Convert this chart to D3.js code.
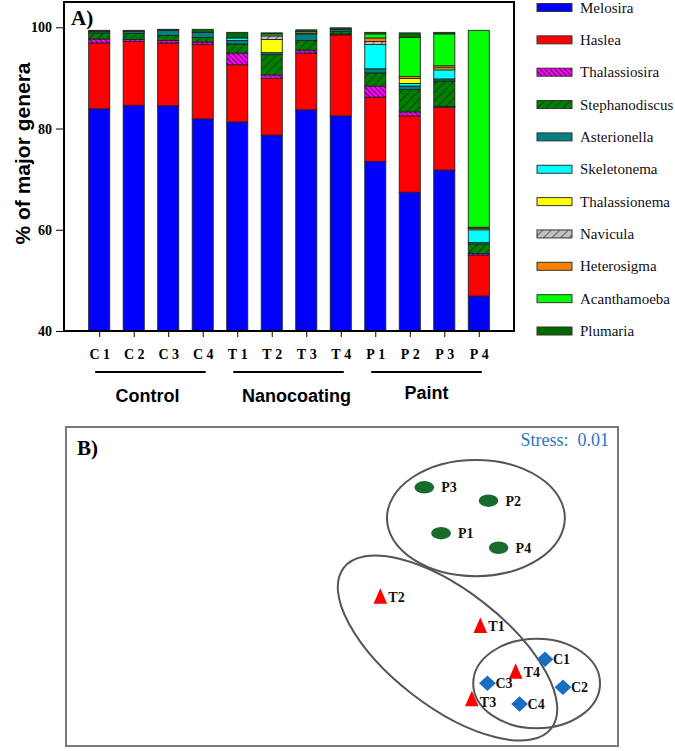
<!DOCTYPE html>
<html><head><meta charset="utf-8">
<script src="https://cdn.jsdelivr.net/npm/d3@7"></script>
<style>
html,body{margin:0;padding:0;background:#fff;}
svg{display:block;}
</style></head>
<body>
<svg id="chart" width="675" height="751"></svg>
<script>
// ---------- Panel A data ----------
const samples = ["C 1","C 2","C 3","C 4","T 1","T 2","T 3","T 4","P 1","P 2","P 3","P 4"];
const genera = ["Melosira","Haslea","Thalassiosira","Stephanodiscus","Asterionella","Skeletonema","Thalassionema","Navicula","Heterosigma","Acanthamoeba","Plumaria"];
const melosira       = [83.9, 84.6, 84.5, 81.9, 81.3, 78.7, 83.7, 82.5, 73.5, 67.4, 71.8, 46.9];
const haslea         = [13.0, 12.6, 12.4, 14.7, 11.3, 11.2, 11.2, 16.0, 12.7, 15.1, 12.4, 8.1];
const thalassiosira  = [0.8, 0.4, 0.5, 0.5, 2.3, 0.7, 0.6, 0.2, 2.2, 0.8, 0.2, 0.3];
const stephanodiscus = [1.2, 1.2, 1.0, 0.9, 1.8, 4.0, 1.9, 0.5, 2.6, 4.4, 5.0, 1.9];
const asterionella   = [0.3, 0.4, 1.0, 1.0, 0.7, 0.4, 1.3, 0.4, 0.8, 0.7, 0.4, 0.3];
const skeletonema    = [0, 0, 0, 0, 0.5, 0, 0.2, 0, 4.8, 0.5, 1.8, 2.5];
const thalassionema  = [0, 0, 0, 0, 0, 2.6, 0.3, 0, 0, 1.0, 0.4, 0.3];
const navicula       = [0, 0, 0, 0, 0, 0.7, 0, 0, 0.6, 0, 0, 0];
const heterosigma    = [0, 0, 0, 0, 0, 0, 0, 0, 0.7, 0.4, 0.4, 0.2];
const acanthamoeba   = [0, 0, 0, 0, 0, 0.4, 0, 0, 0.8, 7.7, 6.3, 38.9];
const plumaria       = [0.2, 0.2, 0.2, 0.6, 1.1, 0.2, 0.3, 0.3, 0.3, 0.9, 0.3, 0];
const yTicks = [40, 60, 80, 100];
const groupNames = ["Control", "Nanocoating", "Paint"];
const groupFrom  = ["C 1", "T 1", "P 1"];
const groupTo    = ["C 4", "T 4", "P 4"];

// ---------- Panel B data (NMDS, arbitrary units) ----------
const nmdsLabels = ["P1","P2","P3","P4","T1","T2","T3","T4","C1","C2","C3","C4"];
const nmdsGroup  = ["P","P","P","P","T","T","T","T","C","C","C","C"];
const nmdsX = [-0.122, 0.179, -0.228, 0.243, 0.127, -0.507, 0.073, 0.351, 0.537, 0.651, 0.172, 0.376];
const nmdsY = [0.334, 0.538, 0.622, 0.243, -0.248, -0.064, -0.707, -0.534, -0.456, -0.632, -0.607, -0.737];
// group ellipses: centre x, centre y, semi-axis a, semi-axis b, tilt (deg)
const ellipseGroup = ["P","T","C"];
const ellipseCX = [0.099, -0.081, 0.484];
const ellipseCY = [0.429, -0.386, -0.608];
const ellipseA  = [0.564, 0.832, 0.402];
const ellipseB  = [0.364, 0.364, 0.281];
const ellipseTilt = [0, 37.7, 0];
const stressValue = "0.01";

// ---------- styling / layout ----------
const serif = "'Liberation Serif','Times New Roman',serif";
const sans = "'Liberation Sans',Arial,sans-serif";
const fills = {
  Melosira:"#0000ff", Haslea:"#ff0000", Thalassiosira:"url(#hMag)", Stephanodiscus:"url(#hGreen)",
  Asterionella:"#008080", Skeletonema:"#00ffff", Thalassionema:"#ffff00", Navicula:"url(#hGray)",
  Heterosigma:"#ff8000", Acanthamoeba:"#00ff00", Plumaria:"#006a00"
};
const groupLabelShift = [-3, 8, 0];
const groupLabelY = [402, 402, 399];

const svg = d3.select("#chart");
svg.append("rect").attr("width",675).attr("height",751).attr("fill","#fff");

// patterns
const defs = svg.append("defs");
function hatch(id, bg, size, angle, sw){
  const p = defs.append("pattern").attr("id",id).attr("patternUnits","userSpaceOnUse")
    .attr("width",size).attr("height",size).attr("patternTransform",`rotate(${angle})`);
  p.append("rect").attr("width",size).attr("height",size).attr("fill",bg);
  p.append("line").attr("x1",0).attr("y1",0).attr("x2",0).attr("y2",size)
    .attr("stroke","#000").attr("stroke-width",sw);
}
hatch("hMag","#ff00ff",3.5,-45,1.4);
hatch("hGreen","#008000",6,45,1);
hatch("hGray","#c0c0c0",6,45,1);

// ---------- Panel A ----------
const A = {left:64, right:514, top:2, bottom:331};
const series = [melosira,haslea,thalassiosira,stephanodiscus,asterionella,skeletonema,thalassionema,navicula,heterosigma,acanthamoeba,plumaria];
const table = samples.map((s,i)=>{
  const o = {sample:s};
  genera.forEach((g,k)=>o[g]=series[k][i]);
  return o;
});
const stacked = d3.stack().keys(genera)(table);

const x = d3.scalePoint().domain(samples).range([A.left, A.right]).padding(1.02);
const barW = x.step()*0.61;
const y = d3.scaleLinear().domain([40, 105]).range([A.bottom, A.top]).clamp(true);

const gA = svg.append("g");
stacked.forEach(layer=>{
  gA.append("g").selectAll("rect").data(layer).join("rect")
    .attr("x", d=>x(d.data.sample)-barW/2)
    .attr("width", barW)
    .attr("y", d=>y(d[1]))
    .attr("height", d=>Math.max(0, y(d[0])-y(d[1])))
    .attr("fill", fills[layer.key])
    .attr("stroke", d=> (d[1]-d[0])>0 ? "#222" : "none")
    .attr("stroke-width", 0.9);
});

// frame
gA.append("rect").attr("x",A.left).attr("y",A.top).attr("width",A.right-A.left).attr("height",A.bottom-A.top)
  .attr("fill","none").attr("stroke","#000").attr("stroke-width",2);

// y axis
const yAxis = d3.axisLeft(y).tickValues(yTicks).tickSize(7).tickPadding(4).tickFormat(d3.format("d"));
const gy = gA.append("g").attr("transform",`translate(${A.left-1},0)`).call(yAxis);
gy.select(".domain").remove();
gy.selectAll("line").attr("stroke","#000").attr("stroke-width",1);
gy.selectAll("text").attr("font-family",serif).attr("font-weight","bold").attr("font-size",14).attr("fill","#000");

// x axis
const xAxis = d3.axisBottom(x).tickSize(5).tickPadding(12);
const gx = gA.append("g").attr("transform",`translate(0,${A.bottom+1})`).call(xAxis);
gx.select(".domain").remove();
gx.selectAll("line").attr("stroke","#000");
gx.selectAll("text").attr("font-family",serif).attr("font-weight","bold").attr("font-size",14)
  .attr("fill","#000").style("white-space","pre").text(d=>d.replace(" ","\u00a0"));

// group lines & labels
groupNames.forEach((name,i)=>{
  const x0 = x(groupFrom[i])-4, x1 = x(groupTo[i])+3;
  gA.append("line").attr("x1",x0).attr("x2",x1).attr("y1",372).attr("y2",372)
    .attr("stroke","#000").attr("stroke-width",2);
  gA.append("text").attr("x",(x0+x1)/2+groupLabelShift[i]).attr("y",groupLabelY[i]).attr("text-anchor","middle")
    .attr("font-family",sans).attr("font-weight","bold").attr("font-size",18).text(name);
});

// y title
gA.append("text").attr("transform",`translate(30,${(A.top+A.bottom)/2-13}) rotate(-90)`)
  .attr("text-anchor","middle").attr("font-family",sans).attr("font-weight","bold").attr("font-size",21)
  .text("% of major genera");

// panel label
gA.append("text").attr("x",71).attr("y",25).attr("font-family",serif).attr("font-weight","bold")
  .attr("font-size",21).text("A)");

// legend
const leg = svg.append("g");
genera.forEach((g,i)=>{
  const cy = 7.5 + i*32.35;
  leg.append("rect").attr("x",537).attr("y",cy-4).attr("width",35).attr("height",8)
    .attr("fill",fills[g]).attr("stroke","#333").attr("stroke-width",1);
  leg.append("text").attr("x",580).attr("y",cy+5).attr("font-family",serif).attr("font-size",15)
    .attr("fill","#111").text(g);
});

// ---------- Panel B ----------
const B = {left:66, right:618, top:427, bottom:746};
const bx = d3.scaleLinear().domain([-2.5, 1.0]).range([B.left, B.right]);
const by = d3.scaleLinear().domain([-1.0, 1.0]).range([B.bottom, B.top]);
const gB = svg.append("g");
gB.append("rect").attr("x",B.left).attr("y",B.top).attr("width",B.right-B.left).attr("height",B.bottom-B.top)
  .attr("fill","none").attr("stroke","#7a7a7a").attr("stroke-width",2);

gB.append("text").attr("x",77).attr("y",455).attr("font-family",serif).attr("font-weight","bold")
  .attr("font-size",21).text("B)");
gB.append("text").attr("x",609).attr("y",446).attr("text-anchor","end").attr("font-family",serif)
  .attr("font-size",18).attr("fill","#2e75c0").style("white-space","pre").text("Stress:  " + stressValue);

// ellipses
ellipseGroup.forEach((g,i)=>{
  const cx = bx(ellipseCX[i]), cy = by(ellipseCY[i]);
  const rx = bx(ellipseA[i]) - bx(0), ry = by(0) - by(ellipseB[i]);
  gB.append("ellipse").attr("cx",0).attr("cy",0).attr("rx",rx).attr("ry",ry)
    .attr("transform",`translate(${cx},${cy}) rotate(${ellipseTilt[i]})`)
    .attr("fill","none").attr("stroke","#555").attr("stroke-width",2);
});

// points
const pts = nmdsLabels.map((l,i)=>({label:l, g:nmdsGroup[i], x:nmdsX[i], y:nmdsY[i]}));
pts.forEach(p=>{
  const px = bx(p.x), py = by(p.y);
  if(p.g==="P"){
    gB.append("ellipse").attr("cx",px).attr("cy",py).attr("rx",9.8).attr("ry",6.2).attr("fill","#186b2c");
  } else if(p.g==="T"){
    gB.append("path").attr("d",`M${px},${py-8.5} L${px+6.8},${py+7} L${px-6.8},${py+7} Z`).attr("fill","#ff0000");
  } else {
    gB.append("path").attr("d",`M${px},${py-7.8} L${px+8.4},${py} L${px},${py+7.8} L${px-8.4},${py} Z`).attr("fill","#1a6ec2");
  }
  const dx = p.g==="P" ? 17 : 8;
  const dy = p.label==="T3" ? 3 : 0;
  gB.append("text").attr("x",px+dx).attr("y",py+dy+5).attr("font-family",serif).attr("font-weight","bold")
    .attr("font-size",14).attr("fill","#111").text(p.label);
});
</script>
</body></html>
